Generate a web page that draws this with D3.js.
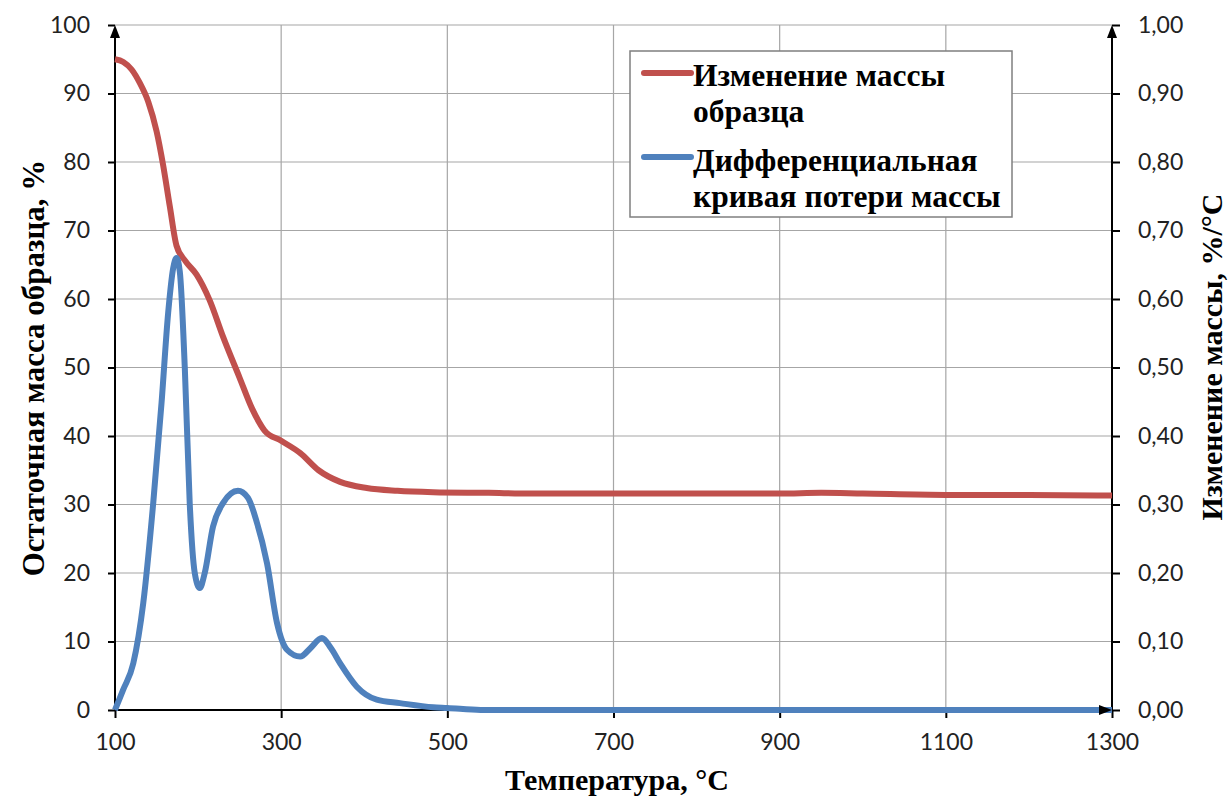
<!DOCTYPE html>
<html>
<head>
<meta charset="utf-8">
<script src="https://cdn.jsdelivr.net/npm/d3@7"></script>
<style>
  body { margin: 0; background: #fff; }
  .tick text { font-family: Lato, "Open Sans", sans-serif; font-size: 23px; fill: #222; }
  .ttl { font-family: "Liberation Serif", "Times New Roman", serif; font-weight: bold; font-size: 30px; fill: #000; }
  .leg { font-size: 31.5px; }
</style>
</head>
<body>
<svg width="1231" height="803"></svg>
<script>
// temperature, residual mass %
var massT = [100,110,120,130,140,150,158,166,174,185,198,214,230,250,265,280,300,323,345,371,403,440,483,550,600,700,800,900,950,1000,1100,1200,1300];
var massV = [95.0,94.6,93.5,91.5,88.8,84.5,79.5,73.5,67.8,65.5,63.6,59.8,54.5,48.5,44.0,40.8,39.3,37.5,35.0,33.3,32.4,32.0,31.8,31.7,31.6,31.6,31.6,31.6,31.7,31.6,31.4,31.4,31.3];

// derivative curve, %/°C
var dtgT = [100,110,122,134,146,156,164,170,174,178,184,190,196,202,208,218,230,248,260,270,283,295,307,323,335,349,360,371,391,415,443,483,500,540,700,900,1100,1300];
var dtgV = [0,0.030,0.068,0.156,0.302,0.448,0.580,0.645,0.660,0.640,0.500,0.300,0.200,0.178,0.200,0.268,0.302,0.320,0.310,0.277,0.214,0.127,0.088,0.078,0.090,0.105,0.090,0.068,0.034,0.015,0.010,0.004,0.003,0,0,0,0,0];

var xTicks = [100,300,500,700,900,1100,1300];
var yLeftTicks = [0,10,20,30,40,50,60,70,80,90,100];
var yRightTicks = [0,0.1,0.2,0.3,0.4,0.5,0.6,0.7,0.8,0.9,1.0];

var legendLabels = [["Изменение массы", "образца"], ["Дифференциальная", "кривая потери массы"]];
var colors = ["#C0504D", "#4F81BD"];

var svg = d3.select("svg");
var pl = 115, pr = 1112, pt = 25, pb = 710;

var x = d3.scaleLinear().domain([100, 1300]).range([pl, pr]);
var yL = d3.scaleLinear().domain([0, 100]).range([pb, pt]);
var yR = d3.scaleLinear().domain([0, 1]).range([pb, pt]);

// grid
svg.append("g").selectAll("line").data(yLeftTicks.slice(1)).enter().append("line")
  .attr("x1", pl).attr("x2", pr)
  .attr("y1", yL).attr("y2", yL)
  .attr("stroke", "#a6a6a6").attr("stroke-width", 1.2);
svg.append("g").selectAll("line").data(xTicks.slice(1, -1)).enter().append("line")
  .attr("x1", x).attr("x2", x)
  .attr("y1", pt).attr("y2", pb)
  .attr("stroke", "#a6a6a6").attr("stroke-width", 1.2);

// axes
var fmtR = function(d) { return d3.format(".2f")(d).replace(".", ","); };

var gL = svg.append("g").attr("transform", "translate(" + pl + ",0)")
  .call(d3.axisLeft(yL).tickValues(yLeftTicks).tickSize(7).tickPadding(18));
var gR = svg.append("g").attr("transform", "translate(" + pr + ",0)")
  .call(d3.axisRight(yR).tickValues(yRightTicks).tickSize(8).tickFormat(fmtR).tickPadding(18));
var gX = svg.append("g").attr("transform", "translate(0," + pb + ")")
  .call(d3.axisBottom(x).tickValues(xTicks).tickFormat(d3.format("d")).tickSize(8).tickPadding(16));

[gL, gR, gX].forEach(function(g) {
  g.select(".domain").remove();
  g.selectAll(".tick line").attr("stroke", "#000").attr("stroke-width", 2);
});

// axis lines with arrows
svg.append("line").attr("x1", pl).attr("x2", pl).attr("y1", pb).attr("y2", pt + 4)
  .attr("stroke", "#000").attr("stroke-width", 2);
svg.append("line").attr("x1", pr).attr("x2", pr).attr("y1", pb).attr("y2", pt + 4)
  .attr("stroke", "#000").attr("stroke-width", 2);
svg.append("line").attr("x1", pl).attr("x2", pr - 4).attr("y1", pb).attr("y2", pb)
  .attr("stroke", "#000").attr("stroke-width", 2);

function arrowUp(cx) {
  svg.append("path").attr("d", "M" + cx + "," + pt + "L" + (cx - 5) + "," + (pt + 13) + "L" + (cx + 5) + "," + (pt + 13) + "Z").attr("fill", "#000");
}
arrowUp(pl);
arrowUp(pr);

// lines
var lineMass = d3.line().x(function(d) { return x(d[0]); }).y(function(d) { return yL(d[1]); }).curve(d3.curveMonotoneX);
var lineDtg = d3.line().x(function(d) { return x(d[0]); }).y(function(d) { return yR(d[1]); }).curve(d3.curveMonotoneX);

svg.append("path").datum(d3.zip(massT, massV)).attr("d", lineMass)
  .attr("fill", "none").attr("stroke", colors[0]).attr("stroke-width", 6).attr("stroke-linejoin", "round");
svg.append("path").datum(d3.zip(dtgT, dtgV)).attr("d", lineDtg)
  .attr("fill", "none").attr("stroke", colors[1]).attr("stroke-width", 6).attr("stroke-linejoin", "round");

svg.append("path").attr("d", "M" + pr + "," + pb + "L" + (pr - 13) + "," + (pb - 5) + "L" + (pr - 13) + "," + (pb + 5) + "Z").attr("fill", "#000");

// titles
svg.append("text").attr("class", "ttl").attr("x", 617).attr("y", 790)
  .attr("text-anchor", "middle").text("Температура, °С");
svg.append("text").attr("class", "ttl").attr("transform", "translate(44,368) rotate(-90)")
  .attr("text-anchor", "middle").style("font-size", "31px").text("Остаточная масса образца, %");
svg.append("text").attr("class", "ttl").attr("transform", "translate(1222,357) rotate(-90)")
  .attr("text-anchor", "middle").text("Изменение массы,  %/°С");

// legend
var lg = svg.append("g");
lg.append("rect").attr("x", 630).attr("y", 51).attr("width", 382).attr("height", 166)
  .attr("fill", "#fff").attr("stroke", "#7f7f7f").attr("stroke-width", 1.5);
legendLabels.forEach(function(lab, i) {
  var yy = 73 + i * 84;
  lg.append("line").attr("x1", 644).attr("x2", 691).attr("y1", yy).attr("y2", yy)
    .attr("stroke", colors[i]).attr("stroke-width", 6).attr("stroke-linecap", "round");
  lab.forEach(function(t, j) {
    lg.append("text").attr("class", "ttl leg").attr("x", 693).attr("y", 86 + i * 85 + j * 36).text(t);
  });
});
</script>
</body>
</html>
